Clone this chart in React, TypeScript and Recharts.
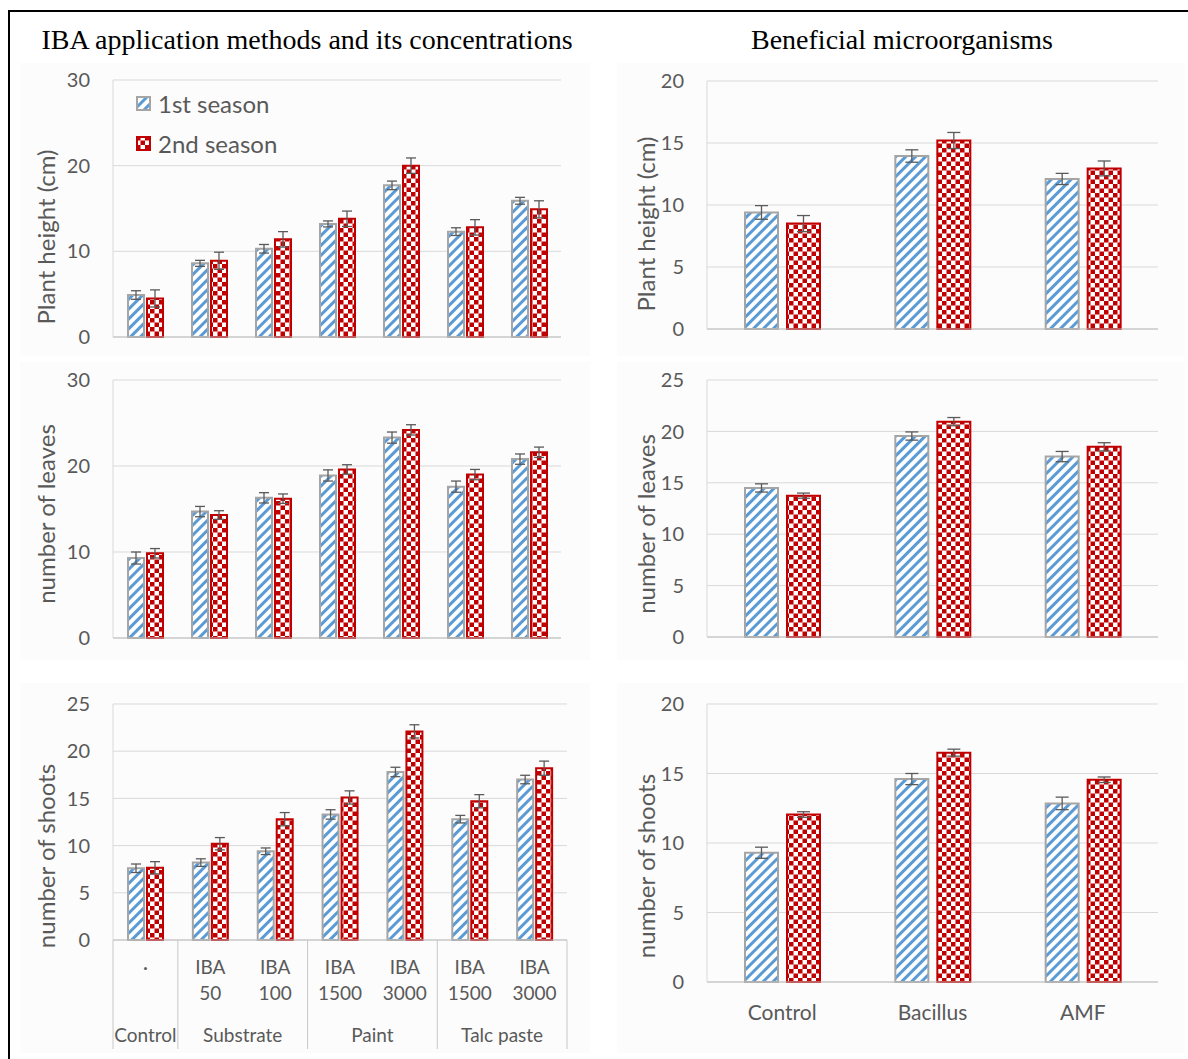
import React from "react";
import { BarChart, Bar, XAxis, YAxis, CartesianGrid, ErrorBar } from "recharts";

const BLUE = "#5b9bd5";
const GREY = "#a5a5a5";
const RED = "#c00000";
const TEXT = "#595959";
const GRID = "#d9d9d9";
const FONT = "Lato, 'Open Sans', sans-serif";

// IBA application methods (left column)
const methodGroups = ["Control", "Substrate", "Paint", "Talc paste"];
const methodGroupSizes = [1, 2, 2, 2];
const methodTop = ["·", "IBA", "IBA", "IBA", "IBA", "IBA", "IBA"];
const methodBottom = ["", "50", "100", "1500", "3000", "1500", "3000"];

const heightM1 = [4.9, 8.6, 10.3, 13.2, 17.7, 12.3, 15.9];
const heightM1Err = [0.5, 0.35, 0.5, 0.35, 0.5, 0.45, 0.4];
const heightM2 = [4.5, 8.9, 11.4, 13.8, 20.0, 12.8, 14.9];
const heightM2Err = [1.0, 1.0, 0.9, 0.9, 0.9, 0.9, 1.0];

const leavesM1 = [9.3, 14.7, 16.3, 18.9, 23.3, 17.6, 20.8];
const leavesM1Err = [0.7, 0.6, 0.6, 0.65, 0.65, 0.65, 0.6];
const leavesM2 = [9.85, 14.3, 16.2, 19.6, 24.2, 19.0, 21.6];
const leavesM2Err = [0.55, 0.5, 0.55, 0.55, 0.6, 0.6, 0.6];

const shootsM1 = [7.6, 8.2, 9.4, 13.3, 17.8, 12.8, 17.0];
const shootsM1Err = [0.45, 0.4, 0.35, 0.5, 0.5, 0.4, 0.45];
const shootsM2 = [7.65, 10.2, 12.8, 15.1, 22.1, 14.7, 18.2];
const shootsM2Err = [0.65, 0.65, 0.7, 0.7, 0.7, 0.7, 0.75];

// Beneficial microorganisms (right column)
const microbes = ["Control", "Bacillus", "AMF"];

const heightB1 = [9.4, 13.95, 12.1];
const heightB1Err = [0.55, 0.5, 0.45];
const heightB2 = [8.5, 15.2, 12.95];
const heightB2Err = [0.65, 0.65, 0.6];

const leavesB1 = [14.5, 19.55, 17.55];
const leavesB1Err = [0.4, 0.4, 0.5];
const leavesB2 = [13.75, 20.95, 18.5];
const leavesB2Err = [0.25, 0.4, 0.4];

const shootsB1 = [9.3, 14.6, 12.85];
const shootsB1Err = [0.4, 0.4, 0.45];
const shootsB2 = [12.05, 16.5, 14.55];
const shootsB2Err = [0.2, 0.25, 0.2];

const ticks30 = [0, 10, 20, 30];
const ticks25 = [0, 5, 10, 15, 20, 25];
const ticks20 = [0, 5, 10, 15, 20];

const seasons = ["1st season", "2nd season"];

// group index of each method category
const groupOf: number[] = methodGroupSizes.flatMap((n, g) => Array(n).fill(g));
const groupStart: number[] = methodGroupSizes.map((_, g) =>
  methodGroupSizes.slice(0, g).reduce((a, b) => a + b, 0)
);
const methodCats = methodTop.map(
  (t, i) => `${methodGroups[groupOf[i]]} ${t} ${methodBottom[i]}`.trim()
);

function rows(cats: string[], s1: number[], e1: number[], s2: number[], e2: number[]) {
  return cats.map((cat, i) => ({ cat, s1: s1[i], e1: e1[i], s2: s2[i], e2: e2[i] }));
}

type Box = { x0: number; x1: number; y0: number; y1: number };

const PAD_L = 80;
const PAD_T = 14;
const PAD_R = 12;

function Panel({
  box,
  data,
  ticks,
  barSize,
  barGap,
  capWidth,
  xHeight,
  xTick,
}: {
  box: Box;
  data: any[];
  ticks: number[];
  barSize: number;
  barGap: number;
  capWidth: number;
  xHeight: number;
  xTick?: any;
}) {
  const w = box.x1 - box.x0 + PAD_L + PAD_R;
  const h = box.y1 - box.y0 + PAD_T + xHeight;
  return (
    <div style={{ position: "absolute", left: box.x0 - PAD_L, top: box.y0 - PAD_T }}>
      <BarChart
        width={w}
        height={h}
        data={data}
        margin={{ top: PAD_T, right: PAD_R, left: 0, bottom: 0 }}
        barSize={barSize}
        barGap={barGap}
      >
        <CartesianGrid vertical={false} stroke={GRID} />
        <XAxis
          dataKey="cat"
          height={xHeight}
          interval={0}
          tickLine={false}
          tickSize={0}
          tickMargin={0}
          axisLine={{ stroke: "#bfbfbf" }}
          tick={xTick ?? false}
        />
        <YAxis
          width={PAD_L}
          domain={[ticks[0], ticks[ticks.length - 1]]}
          ticks={ticks}
          interval={0}
          tickLine={false}
          tickSize={0}
          tickMargin={23}
          axisLine={{ stroke: GRID }}
          tick={{ fill: TEXT, fontSize: 20, fontFamily: FONT }}
        />
        <Bar dataKey="s1" name={seasons[0]} fill="url(#stripes)" stroke={GREY} strokeWidth={2} isAnimationActive={false}>
          <ErrorBar dataKey="e1" width={capWidth} stroke="#5a5a5a" strokeWidth={1.3} isAnimationActive={false} />
        </Bar>
        <Bar dataKey="s2" name={seasons[1]} fill="url(#checker)" stroke={RED} strokeWidth={2} isAnimationActive={false}>
          <ErrorBar dataKey="e2" width={capWidth} stroke="#5a5a5a" strokeWidth={1.3} isAnimationActive={false} />
        </Bar>
      </BarChart>
    </div>
  );
}

const boxTL: Box = { x0: 113, x1: 561, y0: 80, y1: 337 };
const boxML: Box = { x0: 113, x1: 561, y0: 380, y1: 638 };
const boxBL: Box = { x0: 113, x1: 567, y0: 704, y1: 940 };
const boxTR: Box = { x0: 707, x1: 1158, y0: 81, y1: 329 };
const boxMR: Box = { x0: 707, x1: 1158, y0: 380, y1: 637 };
const boxBR: Box = { x0: 707, x1: 1158, y0: 704, y1: 982 };

const halfBandBL = (boxBL.x1 - boxBL.x0) / methodCats.length / 2;

function MethodTick(props: any) {
  const { x, y, index } = props;
  const g = groupOf[index];
  const isStart = groupStart[g] === index;
  const isLast = index === methodCats.length - 1;
  const st = { fill: TEXT, fontSize: 19, fontFamily: FONT };
  return (
    <g>
      <text x={x} y={y + 27} dy="0.35em" textAnchor="middle" {...st}>
        {methodTop[index]}
      </text>
      <text x={x} y={y + 53} dy="0.35em" textAnchor="middle" {...st}>
        {methodBottom[index]}
      </text>
      {isStart && (
        <>
          <text
            x={x + (methodGroupSizes[g] - 1) * halfBandBL}
            y={y + 95}
            dy="0.35em"
            textAnchor="middle"
            {...st}
          >
            {methodGroups[g]}
          </text>
          <line x1={x - halfBandBL} x2={x - halfBandBL} y1={y} y2={y + 109} stroke="#c8c8c8" />
        </>
      )}
      {isLast && <line x1={x + halfBandBL} x2={x + halfBandBL} y1={y} y2={y + 109} stroke="#c8c8c8" />}
    </g>
  );
}

function MicrobeTick(props: any) {
  const { x, y, payload } = props;
  return (
    <text x={x} y={y + 31} dy="0.35em" textAnchor="middle" fill={TEXT} fontSize={21} fontFamily={FONT}>
      {payload.value}
    </text>
  );
}

function AxisTitle({ x, y, text }: { x: number; y: number; text: string }) {
  return (
    <div
      style={{
        position: "absolute",
        left: x,
        top: y,
        transform: "translate(-50%, -50%) rotate(-90deg)",
        whiteSpace: "nowrap",
        fontFamily: FONT,
        fontSize: 24,
        color: TEXT,
        lineHeight: 1,
      }}
    >
      {text}
    </div>
  );
}

function Title({ x, text }: { x: number; text: string }) {
  return (
    <div
      style={{
        position: "absolute",
        left: x,
        top: 40,
        transform: "translate(-50%, -50%)",
        whiteSpace: "nowrap",
        fontFamily: "'Liberation Serif', 'Times New Roman', serif",
        fontSize: 28,
        color: "#000",
        lineHeight: 1,
      }}
    >
      {text}
    </div>
  );
}

function LegendItem({ y, fill, stroke, label }: { y: number; fill: string; stroke: string; label: string }) {
  return (
    <div style={{ position: "absolute", left: 136, top: y - 14, height: 28, display: "flex", alignItems: "center" }}>
      <svg width={15} height={15} style={{ display: "block" }}>
        <rect x={1} y={1} width={13} height={13} fill={fill} stroke={stroke} strokeWidth={2} />
      </svg>
      <span style={{ marginLeft: 7, fontFamily: FONT, fontSize: 24, color: TEXT, whiteSpace: "nowrap" }}>{label}</span>
    </div>
  );
}

const panelBg = (left: number, top: number, width: number, height: number) => (
  <div style={{ position: "absolute", left, top, width, height, background: "#fcfcfc" }} />
);

export default function App() {
  const methodsHeight = rows(methodCats, heightM1, heightM1Err, heightM2, heightM2Err);
  const methodsLeaves = rows(methodCats, leavesM1, leavesM1Err, leavesM2, leavesM2Err);
  const methodsShoots = rows(methodCats, shootsM1, shootsM1Err, shootsM2, shootsM2Err);
  const microHeight = rows(microbes, heightB1, heightB1Err, heightB2, heightB2Err);
  const microLeaves = rows(microbes, leavesB1, leavesB1Err, leavesB2, leavesB2Err);
  const microShoots = rows(microbes, shootsB1, shootsB1Err, shootsB2, shootsB2Err);

  return (
    <div style={{ position: "absolute", left: 0, top: 0, width: 1188, height: 1059, background: "#fff", overflow: "hidden" }}>
      <svg width={0} height={0} style={{ position: "absolute" }}>
        <defs>
          <pattern id="stripes" width={7} height={7} patternUnits="userSpaceOnUse" patternTransform="rotate(45)">
            <rect width={7} height={7} fill="#fff" />
            <rect width={3} height={7} fill={BLUE} />
          </pattern>
          <pattern id="checker" width={9} height={9} patternUnits="userSpaceOnUse">
            <rect width={9} height={9} fill="#fff" />
            <rect width={4.5} height={4.5} fill={RED} />
            <rect x={4.5} y={4.5} width={4.5} height={4.5} fill={RED} />
          </pattern>
        </defs>
      </svg>

      {/* frame */}
      <div style={{ position: "absolute", left: 8, top: 10, width: 1180, height: 1049, borderLeft: "2px solid #000", borderTop: "2px solid #000" }} />

      {panelBg(20, 63, 570, 293)}
      {panelBg(20, 362, 570, 298)}
      {panelBg(20, 683, 570, 370)}
      {panelBg(617, 63, 568, 293)}
      {panelBg(617, 362, 568, 298)}
      {panelBg(617, 683, 568, 370)}

      <Title x={307} text="IBA application methods and its concentrations" />
      <Title x={902} text="Beneficial microorganisms" />

      <Panel box={boxTL} data={methodsHeight} ticks={ticks30} barSize={16} barGap={3} capWidth={5} xHeight={16} />
      <Panel box={boxML} data={methodsLeaves} ticks={ticks30} barSize={16} barGap={3} capWidth={5} xHeight={16} />
      <Panel
        box={boxBL}
        data={methodsShoots}
        ticks={ticks25}
        barSize={16}
        barGap={3}
        capWidth={5}
        xHeight={112}
        xTick={(p: any) => <MethodTick {...p} />}
      />
      <Panel box={boxTR} data={microHeight} ticks={ticks20} barSize={33} barGap={9} capWidth={6.5} xHeight={16} />
      <Panel box={boxMR} data={microLeaves} ticks={ticks25} barSize={33} barGap={9} capWidth={6.5} xHeight={16} />
      <Panel
        box={boxBR}
        data={microShoots}
        ticks={ticks20}
        barSize={33}
        barGap={9}
        capWidth={6.5}
        xHeight={60}
        xTick={(p: any) => <MicrobeTick {...p} />}
      />

      <LegendItem y={103} fill="url(#stripes)" stroke={GREY} label={seasons[0]} />
      <LegendItem y={143} fill="url(#checker)" stroke={RED} label={seasons[1]} />

      <AxisTitle x={46} y={237} text="Plant height (cm)" />
      <AxisTitle x={46} y={514} text="number of leaves" />
      <AxisTitle x={46} y={856} text="number of shoots" />
      <AxisTitle x={646} y={224} text="Plant height (cm)" />
      <AxisTitle x={646} y={524} text="number of leaves" />
      <AxisTitle x={646} y={866} text="number of shoots" />
    </div>
  );
}
